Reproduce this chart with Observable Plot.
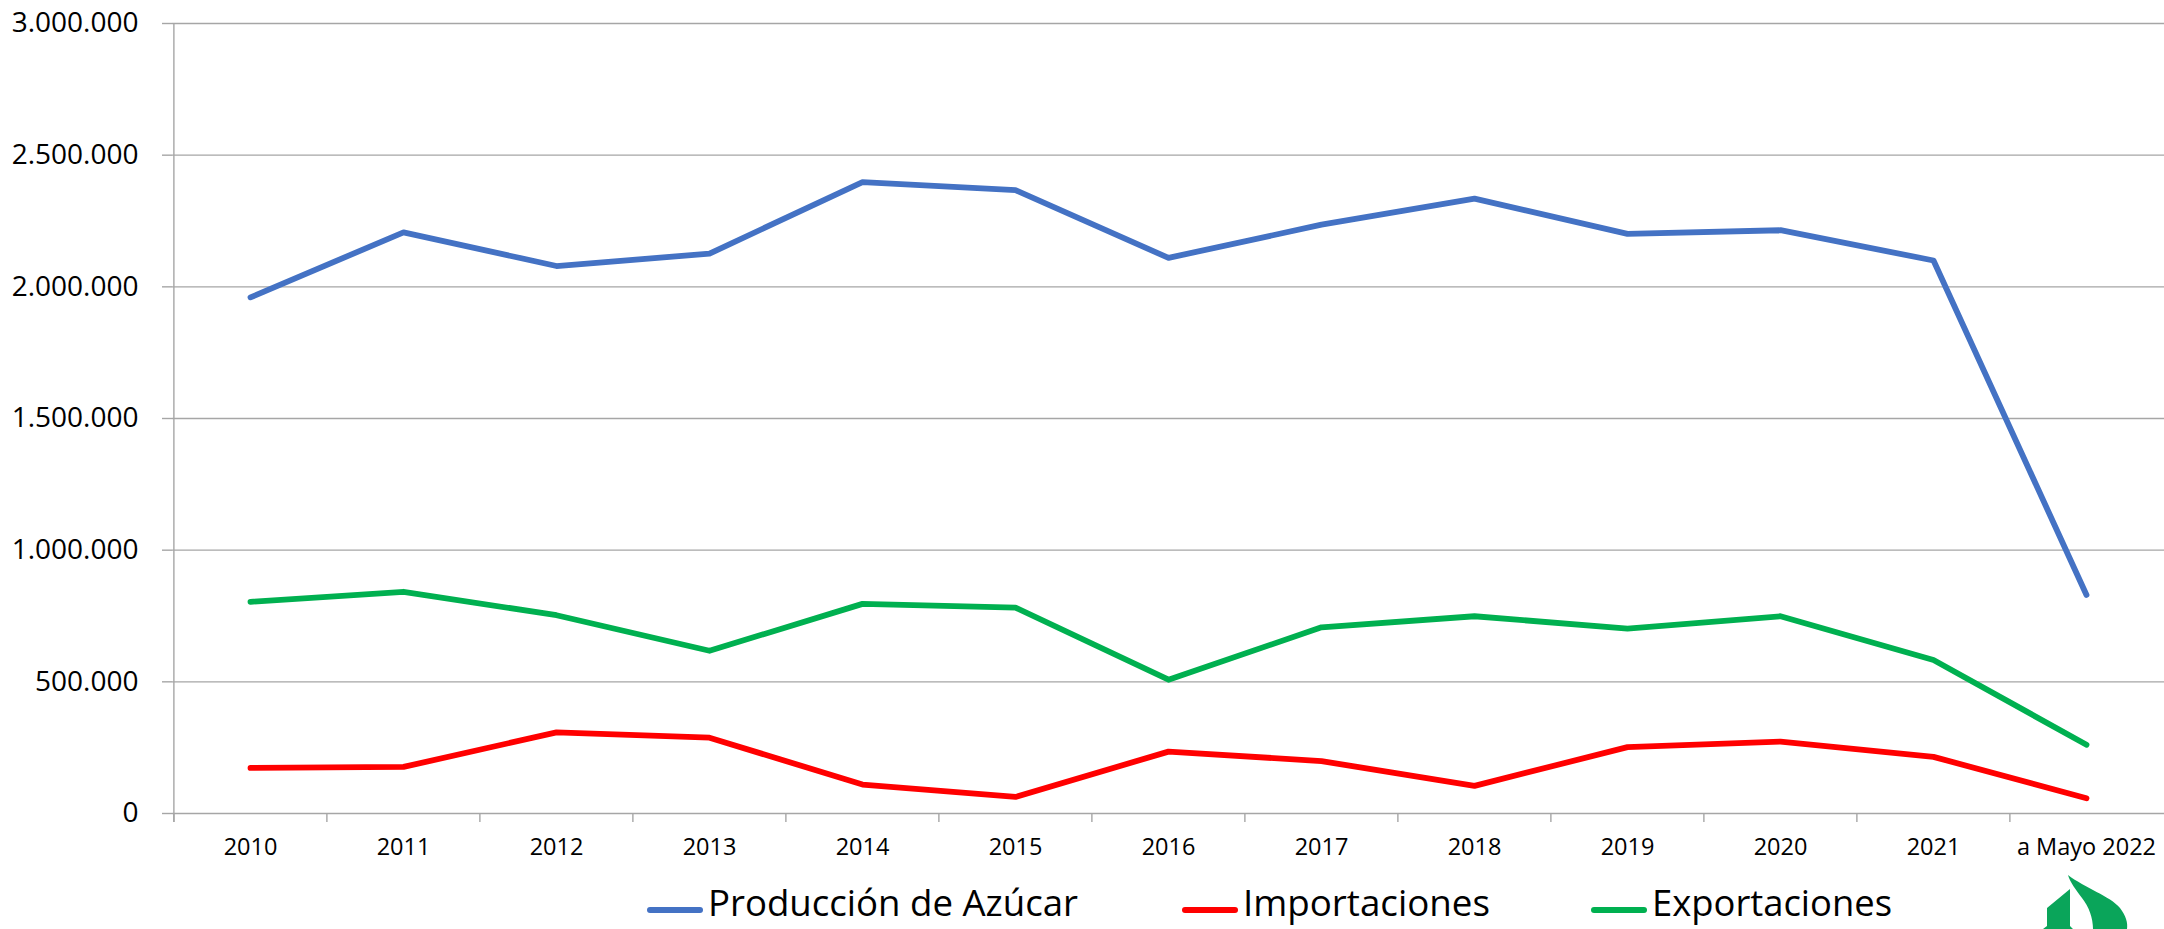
<!DOCTYPE html>
<html>
<head>
<meta charset="utf-8">
<script src="https://cdn.jsdelivr.net/npm/d3@7"></script>
<script src="https://cdn.jsdelivr.net/npm/@observablehq/plot@0.6"></script>
<style>
  html, body { margin: 0; padding: 0; background: #fff; }
  #wrap { position: relative; width: 2164px; height: 929px; overflow: hidden; font-family: "Open Sans", sans-serif; color: #000; }
  #chart { position: absolute; left: 0; top: 0; }
  #legend { position: absolute; left: 0; top: 875px; width: 2164px; height: 54px; }
  .item { position: absolute; top: 0; height: 54px; white-space: nowrap; }
  .swatch { position: absolute; top: 32px; height: 6px; width: 56px; border-radius: 3px; }
  .label { position: absolute; top: 8px; font-size: 36px; line-height: 40px; transform-origin: 0 50%; }
  #logo { position: absolute; left: 1960px; top: 860px; }
</style>
</head>
<body>
<div id="wrap">
  <div id="chart"></div>
  <div id="legend"></div>
  <svg id="logo" width="204" height="69" viewBox="0 0 204 69">
    <path d="M108,15 C125,28 150,36 160,48 C166,56 168,63 167,69 L133,69 C133,58 129,47 122,38 C116,30 110,22 108,15 Z" fill="#0aa55a"/>
    <path d="M87,48 L110,29 L110,66 L113,69 L83,69 L87,66 Z" fill="#0aa55a"/>
  </svg>
</div>
<script>
// ---- data ----
const categories = ["2010", "2011", "2012", "2013", "2014", "2015", "2016", "2017", "2018", "2019", "2020", "2021", "a Mayo 2022"];
const produccion = [1960000, 2207000, 2079000, 2126000, 2398000, 2367000, 2110000, 2236000, 2335000, 2201000, 2215000, 2100000, 830000];
const importaciones = [173000, 177000, 308000, 288000, 110000, 63000, 235000, 199000, 105000, 252000, 273000, 215000, 58000];
const exportaciones = [804000, 842000, 753000, 618000, 796000, 782000, 508000, 707000, 749000, 702000, 749000, 583000, 261000];
const seriesNames = ["Producción de Azúcar", "Importaciones", "Exportaciones"];
const seriesColors = ["#4472C4", "#FF0000", "#00B050"];
const yTicks = [0, 500000, 1000000, 1500000, 2000000, 2500000, 3000000];

// ---- table ----
const seriesValues = [produccion, importaciones, exportaciones];
const rows = [];
seriesNames.forEach((s, k) => {
  categories.forEach((c, i) => rows.push({serie: s, cat: c, value: seriesValues[k][i]}));
});

// ---- layout ----
const W = 2164, H = 875, mL = 172, mR = 0, mT = 23, mB = 62;
const step = (W - mL - mR) / categories.length;
const yMax = 3000000;
const tickPx = 9;
const ext = tickPx * yMax / (H - mT - mB);
const gridColor = "#a6a6a6";
const fmt = d => d3.format(",")(d).replace(/,/g, ".");

const chart = Plot.plot({
  width: W,
  height: H,
  marginLeft: mL,
  marginRight: mR,
  marginTop: mT,
  marginBottom: mB,
  style: {fontFamily: "'Open Sans', sans-serif", background: "white", color: "#000", overflow: "visible"},
  x: {type: "point", domain: categories, padding: 0.5, align: 0.5},
  y: {domain: [0, yMax]},
  color: {domain: seriesNames, range: seriesColors},
  marks: [
    Plot.ruleY(yTicks, {stroke: gridColor, strokeWidth: 1.4}),
    Plot.ruleX(categories, {x: d => d, dx: -step / 2, y1: 0, y2: -ext, stroke: gridColor, strokeWidth: 1.4}),
    Plot.ruleX([categories[0]], {x: d => d, dx: -step / 2, y1: -ext, y2: yMax, stroke: gridColor, strokeWidth: 1.4}),
    Plot.axisY({ticks: yTicks, tickFormat: fmt, tickSize: 10, tickPadding: 24, fontSize: 28, stroke: gridColor, strokeWidth: 1.4, label: null}),
    Plot.axisX({tickSize: 0, tickPadding: 25, fontSize: 23.5, label: null}),
    Plot.line(rows, {x: "cat", y: "value", z: "serie", stroke: "serie", strokeWidth: 5.8, strokeLinecap: "round", strokeLinejoin: "round"})
  ]
});
document.getElementById("chart").appendChild(chart);

// ---- legend ----
const legendLeft = [647, 1182, 1591];
const legendTextWidth = [370, 247, 240];
const legend = document.getElementById("legend");
seriesNames.forEach((s, k) => {
  const item = document.createElement("div");
  item.className = "item";
  item.style.left = legendLeft[k] + "px";
  const sw = document.createElement("div");
  sw.className = "swatch";
  sw.style.left = "0px";
  sw.style.background = seriesColors[k];
  const lb = document.createElement("span");
  lb.className = "label";
  lb.style.left = "61px";
  lb.textContent = s;
  item.appendChild(sw);
  item.appendChild(lb);
  legend.appendChild(item);
  const w = lb.getBoundingClientRect().width;
  if (w > 0) lb.style.transform = `scaleX(${legendTextWidth[k] / w})`;
});
</script>
</body>
</html>
